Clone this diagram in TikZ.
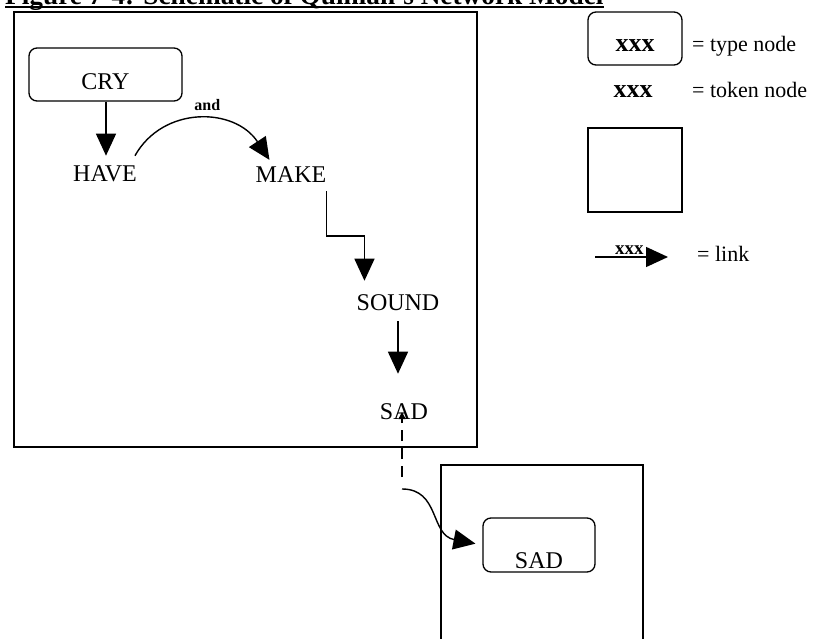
\documentclass[tikz,border=0pt]{standalone}
\usepackage{fontspec}
\setmainfont{Liberation Serif}
\usetikzlibrary{arrows.meta}
\begin{document}
\begin{tikzpicture}[x=1pt,y=-1pt,
  lbl/.style={inner sep=0pt, font=\fontsize{24}{28}\selectfont},
  leg/.style={inner sep=0pt, font=\fontsize{22}{26}\selectfont},
  typebox/.style={draw, line width=1.3pt, rounded corners=8pt, inner sep=0pt},
  arr/.style={line width=1.4pt, -{Triangle[width=20pt,length=22pt]}},
  frame/.style={draw, line width=1.5pt}]
\useasboundingbox (0,0) rectangle (820,639);
\clip (0,0) rectangle (820,639);
% title (cut off at the top)
\node[anchor=base west, inner sep=0pt, font=\fontsize{27.3}{30}\selectfont\bfseries] (title) at (5,5) {Figure 7-4: Schematic of Quinlan's Network Model};
\draw[line width=1.5pt] ([yshift=-2pt]title.base west) -- ([yshift=-2pt]title.base east);
% frames
\draw[frame] (14,12) rectangle (477,447);
\draw[frame] (441,465) rectangle (643,660);
% nodes
\node[typebox, lbl, minimum width=153pt, minimum height=53pt, text height=31pt, text depth=0pt] (cry) at (105.5,74.5) {CRY};
\node[lbl] (have) at (105,174) {HAVE};
\node[lbl] (make) at (291,175) {MAKE};
\node[lbl] (sound) at (398,303) {SOUND};
\node[lbl] (sad) at (404,412) {SAD};
\node[typebox, lbl, minimum width=112pt, minimum height=54pt, text height=46pt, text depth=0pt] (sadbox) at (539,545) {SAD};
% connectors
\draw[arr] (cry.south -| 106,0) -- ([yshift=10pt]have.north -| 106,0);
\draw[arr] ([shift={(-2,-10)}]have.north east) .. controls +(28,-50) and +(-35,-53) .. ([shift={(14,-7)}]make.north west)
  node[pos=0.55, above=8pt, inner sep=0pt, font=\fontsize{16}{18}\selectfont\bfseries] (andlbl) {and};
\draw[arr] ([yshift=-8pt]make.south east) -- ++(0,45) -| ([shift={(8,-14)}]sound.north west);
\draw[arr, shorten <=10pt, shorten >=30pt] (sound.south) -- (sound.south |- sad.north);
\coordinate (dashend) at (402,477);
\coordinate (curvestart) at (402,489);
\draw[line width=1.4pt, dash pattern=on 11pt off 7pt, -{Triangle[width=7pt,length=7pt]}] (dashend) -- (dashend |- sad.center);
\draw[arr, shorten >=7pt] (curvestart) .. controls (440,489) and (430,535) .. (sadbox.west);
% legend
\node[typebox, leg, minimum width=94pt, minimum height=53pt, text height=27pt, text depth=0pt, font=\fontsize{26}{28}\selectfont\bfseries] (legtype) at (635,38.5) {xxx};
\node[leg, anchor=base west] (legtypetxt) at (692,52) {= type node};
\node[inner sep=0pt, anchor=base, font=\fontsize{26}{28}\selectfont\bfseries] (legtoken) at (633,98) {xxx};
\node[leg, anchor=base west] (legtokentxt) at (692,98) {= token node};
\node[draw, line width=1.3pt, minimum width=94pt, minimum height=84pt, inner sep=0pt] (legframe) at (635,170) {};
\coordinate (linkstart) at (595,257);
\coordinate (linkend) at (668,257);
\draw[arr] (linkstart) -- (linkend) node[pos=0.47, above=2pt, inner sep=0pt, font=\fontsize{19}{20}\selectfont\bfseries] (linklbl) {xxx};
\node[leg, anchor=base west] (legstxt) at (697,262) {= link};
\end{tikzpicture}
\end{document}
